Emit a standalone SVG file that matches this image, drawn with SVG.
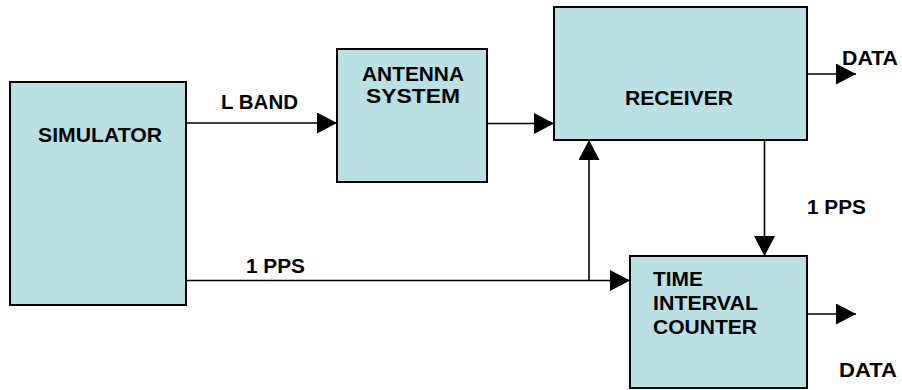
<svg xmlns="http://www.w3.org/2000/svg" width="902" height="390" viewBox="0 0 902 390">
<style>
.box{fill:#BBE0E3;stroke:#000;stroke-width:2}
.t{font-family:"Liberation Sans",Arial,sans-serif;font-weight:bold;font-size:20px;fill:#000}
.ln{fill:none;stroke:#000;stroke-width:1.6}
</style>
<defs>
<marker id="ah" viewBox="0 0 20 21" refX="20" refY="10.5" markerWidth="20" markerHeight="21" markerUnits="userSpaceOnUse" orient="auto">
<path d="M0,0 L20,10.5 L0,21 Z" fill="#000"/>
</marker>
</defs>
<rect width="902" height="390" fill="#fff"/>
<g id="simulator">
<rect class="box" x="10" y="82" width="176" height="223"/>
<text class="t" x="38" y="142" textLength="124" lengthAdjust="spacingAndGlyphs">SIMULATOR</text>
</g>
<g id="antenna">
<rect class="box" x="337" y="49" width="150" height="133"/>
<text class="t" x="362" y="81" textLength="102" lengthAdjust="spacingAndGlyphs">ANTENNA</text>
<text class="t" x="366" y="103" textLength="94" lengthAdjust="spacingAndGlyphs">SYSTEM</text>
</g>
<g id="receiver">
<rect class="box" x="554" y="7" width="253" height="133"/>
<text class="t" x="625" y="105" textLength="108" lengthAdjust="spacingAndGlyphs">RECEIVER</text>
</g>
<g id="tic">
<rect class="box" x="630" y="256" width="177" height="132"/>
<text class="t" x="653" y="286" textLength="50" lengthAdjust="spacingAndGlyphs">TIME</text>
<text class="t" x="653" y="310" textLength="105" lengthAdjust="spacingAndGlyphs">INTERVAL</text>
<text class="t" x="653" y="334" textLength="104" lengthAdjust="spacingAndGlyphs">COUNTER</text>
</g>
<g id="connectors">
<line class="ln" x1="186" y1="123" x2="337" y2="123" marker-end="url(#ah)"/>
<line class="ln" x1="487" y1="123.5" x2="554" y2="123.5" marker-end="url(#ah)"/>
<line class="ln" x1="807" y1="74" x2="856" y2="74" marker-end="url(#ah)"/>
<line class="ln" x1="186" y1="280.5" x2="630" y2="280.5" marker-end="url(#ah)"/>
<line class="ln" x1="589" y1="280.5" x2="589" y2="140" marker-end="url(#ah)"/>
<line class="ln" x1="764.5" y1="140" x2="764.5" y2="256" marker-end="url(#ah)"/>
<line class="ln" x1="807" y1="314" x2="856" y2="314" marker-end="url(#ah)"/>
</g>
<g id="labels">
<text class="t" x="221" y="109" textLength="77" lengthAdjust="spacingAndGlyphs">L BAND</text>
<text class="t" x="842" y="65" textLength="56" lengthAdjust="spacingAndGlyphs">DATA</text>
<text class="t" x="807" y="214" textLength="59" lengthAdjust="spacingAndGlyphs">1 PPS</text>
<text class="t" x="246" y="273" textLength="59" lengthAdjust="spacingAndGlyphs">1 PPS</text>
<text class="t" x="839" y="377" textLength="58" lengthAdjust="spacingAndGlyphs">DATA</text>
</g>
</svg>
